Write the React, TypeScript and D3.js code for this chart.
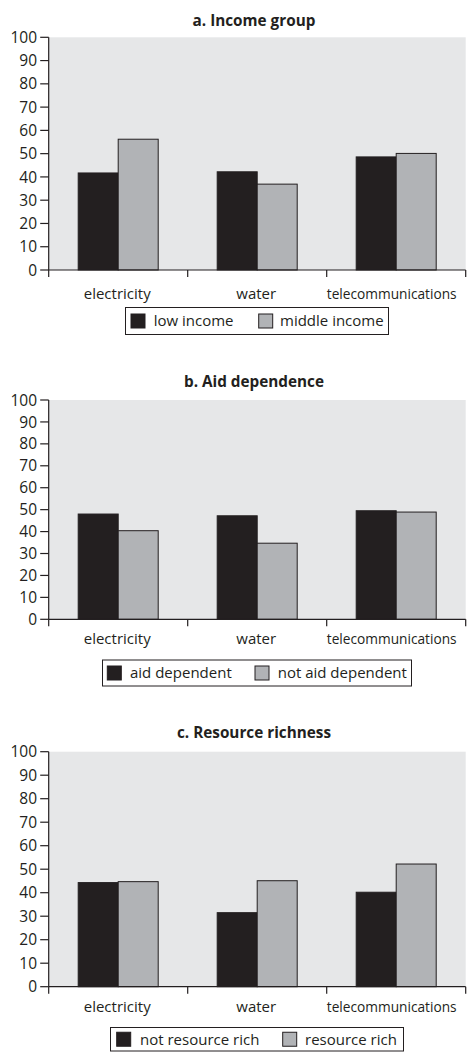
import React from "react";
import * as d3 from "d3";

const categories = ["electricity", "water", "telecommunications"];
const yTicks = [0, 10, 20, 30, 40, 50, 60, 70, 80, 90, 100];

const titleA = "a. Income group";
const seriesA = ["low income", "middle income"];
const lowIncome = [41.7, 42.2, 48.6];
const middleIncome = [56.2, 36.9, 50.1];

const titleB = "b. Aid dependence";
const seriesB = ["aid dependent", "not aid dependent"];
const aidDependent = [48.0, 47.2, 49.5];
const notAidDependent = [40.4, 34.7, 48.9];

const titleC = "c. Resource richness";
const seriesC = ["not resource rich", "resource rich"];
const notResourceRich = [44.3, 31.5, 40.2];
const resourceRich = [44.7, 45.1, 52.2];

const panels = [
  { title: titleA, series: seriesA, values: [lowIncome, middleIncome] },
  { title: titleB, series: seriesB, values: [aidDependent, notAidDependent] },
  { title: titleC, series: seriesC, values: [notResourceRich, resourceRich] },
];

// layout (pixels)
const layouts = [
  { top: 37.3, bottom: 270, titleY: 25.7, labelY: 298.5, legend: { x0: 125.5, x1: 388.5, y0: 307.5, y1: 334.5, sw: [131, 258.7], tx: [153.7, 280] } },
  { top: 400, bottom: 619.3, titleY: 386.7, labelY: 644, legend: { x0: 102.5, x1: 411.5, y0: 660, y1: 686, sw: [107.3, 255], tx: [130, 277.7] } },
  { top: 751.7, bottom: 986.7, titleY: 738.3, labelY: 1011.7, legend: { x0: 110.5, x1: 403.5, y0: 1027.5, y1: 1051, sw: [116.7, 282.7], tx: [140, 305] } },
];

const X0 = 48.7;
const X1 = 465.7;
const FILLS = ["#231f20", "#b1b3b6"];
const FONT = "'Open Sans', 'Noto Sans', sans-serif";
const FS = 15;

let ctx: CanvasRenderingContext2D | null = null;
function measure(text: string, size: number) {
  if (typeof document === "undefined") return text.length * size * 0.5;
  if (!ctx) ctx = document.createElement("canvas").getContext("2d");
  if (!ctx) return text.length * size * 0.5;
  ctx.font = `${size}px 'Open Sans'`;
  return ctx.measureText(text).width;
}

function Panel({ panel, layout }: any) {
  const x = d3.scaleBand<string>().domain(categories).range([X0, X1]).padding(0);
  const y = d3.scaleLinear().domain([0, 100]).range([layout.bottom, layout.top]);
  const groupW = 80;
  const inner = d3.scaleBand<number>().domain([0, 1]).range([0, groupW]);
  const bounds = [X0, ...categories.map((c) => (x(c) as number) + x.bandwidth())];
  const lg = layout.legend;
  const swSize = 14;
  const lgMid = (lg.y0 + lg.y1) / 2;
  const maxLabel = x.bandwidth() - 9;
  return (
    <g>
      <text x={254} y={layout.titleY} textAnchor="middle" fontFamily={FONT} fontWeight="bold" fontSize={15.3} fill="#231f20">
        {panel.title}
      </text>
      <rect x={X0} y={y(100)} width={X1 - X0} height={y(0) - y(100)} fill="#e6e7e8" />
      {panel.values.map((vals: number[], si: number) =>
        categories.map((c, ci) => {
          const bx = (x(c) as number) + (x.bandwidth() - groupW) / 2 + (inner(si) as number);
          return (
            <rect
              key={si + "-" + ci}
              x={bx}
              y={y(vals[ci])}
              width={inner.bandwidth()}
              height={y(0) - y(vals[ci])}
              fill={FILLS[si]}
              stroke="#231f20"
              strokeWidth={1}
            />
          );
        })
      )}
      <line x1={X0} x2={X0} y1={y(100)} y2={y(0)} stroke="#231f20" strokeWidth={1.2} />
      <line x1={X0} x2={X1} y1={y(0)} y2={y(0)} stroke="#231f20" strokeWidth={1.2} />
      {yTicks.map((t) => (
        <g key={t}>
          <line x1={X0 - 8.5} x2={X0} y1={y(t)} y2={y(t)} stroke="#231f20" strokeWidth={1.2} />
          <text x={37} y={y(t)} dy="0.36em" textAnchor="end" fontFamily={FONT} fontSize={FS + 0.5} fill="#231f20">
            {t}
          </text>
        </g>
      ))}
      {bounds.map((b, i) => (
        <line key={i} x1={b} x2={b} y1={y(0)} y2={y(0) + 7} stroke="#231f20" strokeWidth={1.2} />
      ))}
      {categories.map((c) => {
        const w = measure(c, FS);
        const fs = w > maxLabel ? (FS * maxLabel) / w : FS;
        const cx = Math.min((x(c) as number) + x.bandwidth() / 2 - 1, X1 - 9 - Math.min(w, maxLabel) / 2);
        return (
          <text key={c} x={cx} y={layout.labelY} textAnchor="middle" fontFamily={FONT} fontSize={fs} fill="#231f20">
            {c}
          </text>
        );
      })}
      <rect x={lg.x0} y={lg.y0} width={lg.x1 - lg.x0} height={lg.y1 - lg.y0} fill="white" stroke="#231f20" strokeWidth={1} />
      {panel.series.map((s: string, si: number) => (
        <g key={s}>
          <rect x={lg.sw[si]} y={lgMid - swSize / 2} width={swSize} height={swSize} fill={FILLS[si]} stroke="#231f20" strokeWidth={1} />
          <text x={lg.tx[si]} y={lgMid} dy="0.36em" fontFamily={FONT} fontSize={FS} fill="#231f20">
            {s}
          </text>
        </g>
      ))}
    </g>
  );
}

export default function App() {
  return (
    <svg width={467} height={1052} style={{ position: "absolute", left: 0, top: 0, background: "white" }}>
      {panels.map((p, i) => (
        <Panel key={i} panel={p} layout={layouts[i]} />
      ))}
    </svg>
  );
}
